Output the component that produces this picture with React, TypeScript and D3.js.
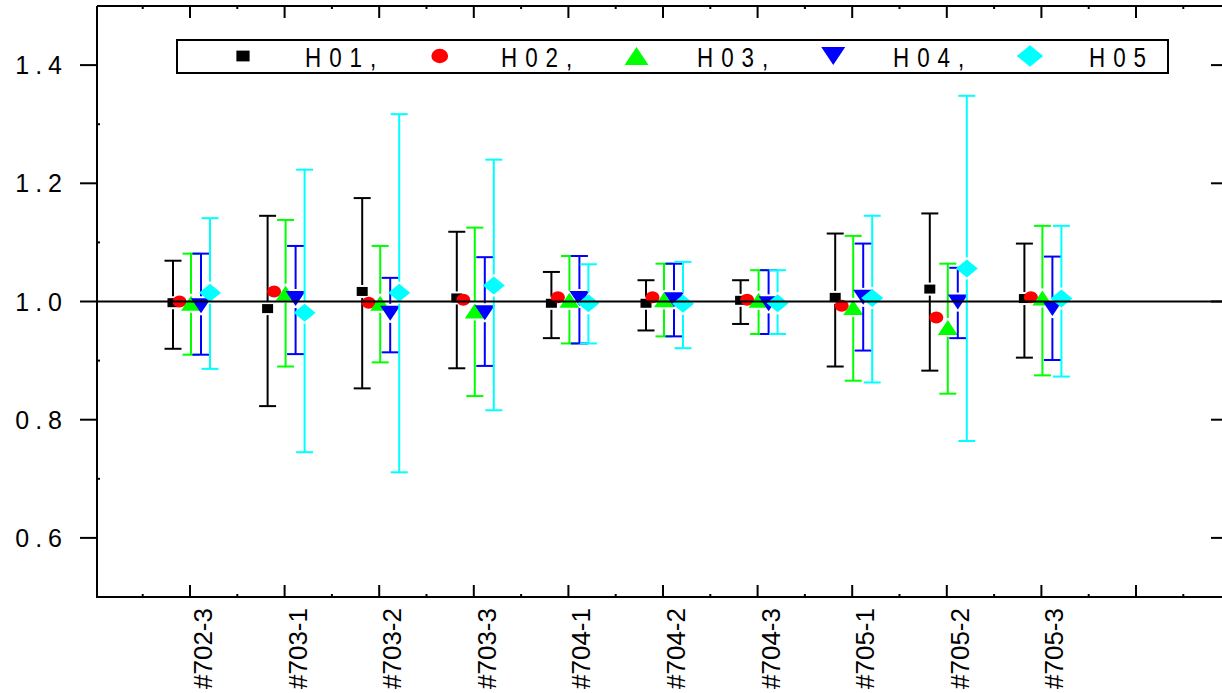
import React from 'react';
import * as d3 from 'd3';

const categories = ['#702-3', '#703-1', '#703-2', '#703-3', '#704-1', '#704-2', '#704-3', '#705-1', '#705-2', '#705-3'];
const yTicks = [0.6, 0.8, 1.0, 1.2, 1.4];
const yMinorTicks = [0.7, 0.9, 1.1, 1.3];
const seriesNames = ['H01', 'H02', 'H03', 'H04', 'H05'];
const seriesColors = ['#000000', '#ff0000', '#00ff00', '#0000ff', '#00ffff'];
const seriesShapes = ['square', 'circle', 'triUp', 'triDown', 'diamond'];

// [mean, low, high]
const H01: [number, number, number][] = [
  [0.998, 0.920, 1.069], [0.988, 0.823, 1.145], [1.017, 0.853, 1.175], [1.006, 0.887, 1.118], [0.997, 0.938, 1.050],
  [0.997, 0.951, 1.036], [1.002, 0.962, 1.036], [1.007, 0.890, 1.115], [1.021, 0.883, 1.149], [1.005, 0.905, 1.098],
];
const H02: number[] = [1.000, 1.017, 0.998, 1.003, 1.007, 1.007, 1.003, 0.993, 0.973, 1.007];
const H03: [number, number, number][] = [
  [0.997, 0.910, 1.081], [1.014, 0.890, 1.138], [0.997, 0.897, 1.094], [0.984, 0.840, 1.125], [1.002, 0.929, 1.077],
  [1.003, 0.941, 1.064], [1.002, 0.945, 1.053], [0.990, 0.866, 1.111], [0.956, 0.844, 1.064], [1.006, 0.875, 1.128],
];
const H04: [number, number, number][] = [
  [0.993, 0.910, 1.081], [1.005, 0.911, 1.094], [0.980, 0.914, 1.040], [0.981, 0.891, 1.075], [1.005, 0.929, 1.077],
  [1.003, 0.941, 1.064], [0.996, 0.945, 1.053], [1.007, 0.917, 1.098], [0.999, 0.938, 1.057], [0.988, 0.901, 1.076],
];
const H05: [number, number, number][] = [
  [1.015, 0.886, 1.141], [0.981, 0.745, 1.223], [1.015, 0.711, 1.317], [1.027, 0.816, 1.240], [0.997, 0.929, 1.063],
  [0.996, 0.921, 1.067], [0.997, 0.945, 1.053], [1.006, 0.863, 1.145], [1.056, 0.764, 1.348], [1.005, 0.873, 1.128],
];

const W = 1222;
const HGT = 693;
const LEFT = 97;
const TOP = 6;
const BOTTOM = 597;
const RIGHT_AXIS = 1228;

const x = d3.scaleLinear().domain([0, 10]).range([190, 1136]);
const y = d3.scaleLinear().domain([0.5, 1.5]).range([BOTTOM, TOP]);
const offsets = [-17, -10.5, 1, 11, 20];
const halfH: Record<string, number> = { square: 4.5, circle: 6, triUp: 7.5, triDown: 7.5, diamond: 9 };

function Marker({ kind, cx, cy, color, s = 1 }: { kind: string; cx: number; cy: number; color: string; s?: number }) {
  if (kind === 'square') {
    return <rect x={cx - 5.5 * s} y={cy - 4.5 * s} width={11 * s} height={9 * s} fill={color} />;
  }
  if (kind === 'circle') {
    return <ellipse cx={cx} cy={cy} rx={7 * s} ry={6 * s} fill={color} />;
  }
  if (kind === 'triUp') {
    const p = d3.path();
    p.moveTo(cx - 10 * s, cy + 7.5 * s);
    p.lineTo(cx + 10 * s, cy + 7.5 * s);
    p.lineTo(cx, cy - 7.5 * s);
    p.closePath();
    return <path d={p.toString()} fill={color} />;
  }
  if (kind === 'triDown') {
    const p = d3.path();
    p.moveTo(cx - 10 * s, cy - 7.5 * s);
    p.lineTo(cx + 10 * s, cy - 7.5 * s);
    p.lineTo(cx, cy + 7.5 * s);
    p.closePath();
    return <path d={p.toString()} fill={color} />;
  }
  const p = d3.path();
  p.moveTo(cx, cy - 9 * s);
  p.lineTo(cx + 11 * s, cy);
  p.lineTo(cx, cy + 9 * s);
  p.lineTo(cx - 11 * s, cy);
  p.closePath();
  return <path d={p.toString()} fill={color} />;
}

export default function App() {
  const allSeries: ([number, number, number] | null)[][] = [
    H01,
    H02.map(() => null),
    H03,
    H04,
    H05,
  ];
  const means: number[][] = [H01.map(d => d[0]), H02, H03.map(d => d[0]), H04.map(d => d[0]), H05.map(d => d[0])];
  const font = 'Arial, "Liberation Sans", sans-serif';
  const cap = 8.5;
  const gap = 2;

  return (
    <svg width={W} height={HGT} style={{ position: 'absolute', left: 0, top: 0, background: '#fff' }}>
      <rect x={0} y={0} width={W} height={HGT} fill="#ffffff" />
      {/* series */}
      {seriesNames.map((name, si) => (
        <g key={name}>
          {categories.map((c, ci) => {
            const err = allSeries[si][ci];
            const cx = x(ci) + offsets[si];
            const cy = y(means[si][ci]);
            const hh = halfH[seriesShapes[si]];
            return (
              <g key={c}>
                {err && (
                  <g stroke={seriesColors[si]} strokeWidth={2} fill="none">
                    <line x1={cx} x2={cx} y1={y(err[2])} y2={Math.max(y(err[2]), cy - hh - gap)} />
                    <line x1={cx} x2={cx} y1={Math.min(y(err[1]), cy + hh + gap)} y2={y(err[1])} />
                    <line x1={cx - cap} x2={cx + cap} y1={y(err[2])} y2={y(err[2])} />
                    <line x1={cx - cap} x2={cx + cap} y1={y(err[1])} y2={y(err[1])} />
                  </g>
                )}
                <Marker kind={seriesShapes[si]} cx={cx} cy={cy} color={seriesColors[si]} />
              </g>
            );
          })}
        </g>
      ))}

      {/* reference line at 1.0 */}
      <line x1={LEFT} x2={W} y1={y(1)} y2={y(1)} stroke="#000" strokeWidth={1.8} />

      {/* axes frame */}
      <g stroke="#000" strokeWidth={2} fill="none">
        <line x1={LEFT} x2={LEFT} y1={TOP} y2={BOTTOM + 1} />
        <line x1={LEFT} x2={RIGHT_AXIS} y1={BOTTOM} y2={BOTTOM} />
        <line x1={LEFT} x2={RIGHT_AXIS} y1={TOP} y2={TOP} />
        <line x1={RIGHT_AXIS} x2={RIGHT_AXIS} y1={TOP} y2={BOTTOM} />
      </g>
      {/* y ticks */}
      <g stroke="#000" strokeWidth={2}>
        {yTicks.map(t => (
          <g key={t}>
            <line x1={LEFT - 17} x2={LEFT} y1={y(t)} y2={y(t)} />
            <line x1={RIGHT_AXIS - 17} x2={RIGHT_AXIS} y1={y(t)} y2={y(t)} />
          </g>
        ))}
        {yMinorTicks.map(t => (
          <g key={t}>
            <line x1={LEFT} x2={LEFT + 3} y1={y(t)} y2={y(t)} />
            <line x1={RIGHT_AXIS - 3} x2={RIGHT_AXIS} y1={y(t)} y2={y(t)} />
          </g>
        ))}
      </g>
      {/* x ticks */}
      <g stroke="#000" strokeWidth={2}>
        {d3.range(0, 11).map(i => (
          <g key={i}>
            <line x1={x(i)} x2={x(i)} y1={BOTTOM} y2={BOTTOM - 12} />
            <line x1={x(i)} x2={x(i)} y1={TOP} y2={TOP + 12} />
          </g>
        ))}
        {d3.range(-0.5, 11, 1).map(i => (
          <g key={'m' + i}>
            <line x1={x(i)} x2={x(i)} y1={BOTTOM} y2={BOTTOM - 3} />
            <line x1={x(i)} x2={x(i)} y1={TOP} y2={TOP + 3} />
          </g>
        ))}
      </g>
      {/* y tick labels */}
      {yTicks.map(t => (
        <text key={t} x={68} y={y(t) + 9} textAnchor="end" fontFamily={font} fontSize={25} letterSpacing={6} fill="#000">
          {d3.format('.1f')(t)}
        </text>
      ))}
      {/* x tick labels */}
      {categories.map((c, i) => (
        <text key={c} transform={`translate(${x(i) + 22},608) rotate(-90)`} textAnchor="end" fontFamily={font} fontSize={26} fill="#000">
          {c}
        </text>
      ))}
      {/* legend */}
      <rect x={177} y={40} width={991} height={33} fill="#fff" stroke="#000" strokeWidth={2} />
      {seriesNames.map((name, i) => (
        <g key={name}>
          <Marker kind={seriesShapes[i]} cx={243 + i * 196.75} cy={56} color={seriesColors[i]} s={1.2} />
          <g transform={`translate(${305 + i * 196},67) scale(0.8,1)`}>
            <text x={0} y={0} fontFamily={font} fontSize={28} letterSpacing={10} fill="#000">
              {name + (i < seriesNames.length - 1 ? ',' : '')}
            </text>
          </g>
        </g>
      ))}
    </svg>
  );
}
